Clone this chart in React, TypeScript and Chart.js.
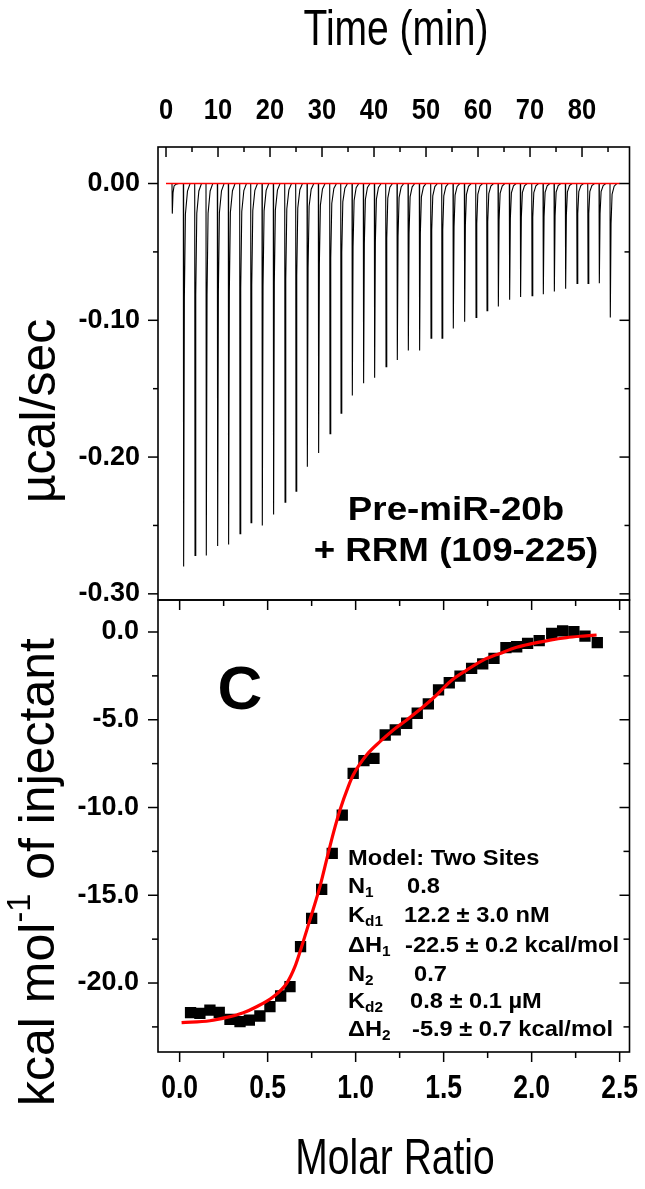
import React, { useEffect, useRef } from 'react';
import { Chart, registerables } from 'chart.js';
Chart.register(...registerables);

// ---------- Top panel: raw ITC thermogram ----------
const injectionTimes = [
  1.15, 3.33, 5.52, 7.69, 9.87, 11.98, 14.17, 16.29, 18.46, 20.63, 22.83,
  24.94, 27.12, 29.29, 31.48, 33.6, 35.77, 37.94, 40.06, 42.25, 44.42,
  46.54, 48.71, 50.9, 53.02, 55.19, 57.37, 59.56, 61.67, 63.85, 66.02,
  68.13, 70.33, 72.5, 74.62, 76.79, 78.98, 81.1, 83.27, 85.38,
];
const injectionPeaks = [
  -0.022, -0.28, -0.272, -0.272, -0.265, -0.264, -0.256, -0.248, -0.25, -0.242,
  -0.233, -0.225, -0.207, -0.197, -0.183, -0.168, -0.155, -0.146, -0.142, -0.134,
  -0.129, -0.122, -0.122, -0.113, -0.113, -0.106, -0.101, -0.098, -0.093, -0.09,
  -0.085, -0.083, -0.082, -0.081, -0.079, -0.077, -0.073, -0.073, -0.073, -0.098,
];
const baselineTimes = [0, 87.3];
const baselineValues = [0, 0];
const timeTickLabels = [0, 10, 20, 30, 40, 50, 60, 70, 80];
const timeMinorTicks = [5, 15, 25, 35, 45, 55, 65, 75, 85];
const powerTickLabels = [0, -0.1, -0.2, -0.3];
const powerMinorTicks = [-0.05, -0.15, -0.25];

// ---------- Bottom panel: integrated heats ----------
const molarRatio = [
  0.062, 0.115, 0.172, 0.225, 0.286, 0.343, 0.396, 0.456, 0.513, 0.574,
  0.627, 0.687, 0.75, 0.807, 0.867, 0.924, 0.986, 1.047, 1.104, 1.168,
  1.225, 1.29, 1.35, 1.413, 1.471, 1.532, 1.593, 1.659, 1.722, 1.786,
  1.854, 1.915, 1.977, 2.043, 2.114, 2.176, 2.24, 2.303, 2.373,
];
const heatPerMole = [
  -21.69, -21.73, -21.54, -21.67, -22.07, -22.2, -22.11, -21.88, -21.35, -20.74,
  -20.21, -17.93, -16.32, -14.66, -12.61, -10.43, -8.05, -7.33, -7.2, -5.87,
  -5.58, -5.2, -4.63, -4.1, -3.3, -2.89, -2.51, -2.07, -1.82, -1.5,
  -0.89, -0.84, -0.65, -0.49, -0.08, 0.06, 0.02, -0.23, -0.61,
];
const fitRatio = [
  0.011, 0.172, 0.267, 0.362, 0.437, 0.532, 0.608, 0.655, 0.693, 0.74,
  0.797, 0.844, 0.873, 0.911, 0.958, 0.986, 1.062, 1.138, 1.214, 1.29,
  1.384, 1.46, 1.536, 1.631, 1.725, 1.82, 1.915, 2.009, 2.104, 2.199,
  2.293, 2.369,
];
const fitHeat = [
  -22.26, -22.15, -21.96, -21.69, -21.35, -20.78, -20.02, -19.07, -17.93, -16.41,
  -14.51, -12.61, -11.47, -10.14, -8.81, -8.15, -7.01, -6.25, -5.58, -5.01,
  -4.26, -3.59, -2.83, -2.17, -1.6, -1.22, -0.87, -0.65, -0.46, -0.32,
  -0.23, -0.17,
];
const ratioTickLabels = [0, 0.5, 1, 1.5, 2, 2.5];
const ratioMinorTicks = [0.25, 0.75, 1.25, 1.75, 2.25];
const heatTickLabels = [0, -5, -10, -15, -20];
const heatMinorTicks = [-2.5, -7.5, -12.5, -17.5, -22.5];

// shape of one injection peak: [time offset (min), fraction of peak depth]
const peakShape: [number, number][] = [[0, 0], [0.06, 1], [0.2, 0.3], [0.4, 0.08], [0.8, 0.02], [1.3, 0]];

const SANS = "'Liberation Sans', Arial, Helvetica, sans-serif";

type Part = { t: string; sub?: boolean; sup?: boolean };
type TextItem = {
  x: number; y: number; size: number; bold?: boolean; sx?: number;
  align?: 'left' | 'center' | 'right'; rot?: number; parts: Part[];
};

function drawItem(ctx: CanvasRenderingContext2D, it: TextItem, offsetY: number) {
  ctx.save();
  ctx.translate(it.x, it.y - offsetY);
  if (it.rot) ctx.rotate((it.rot * Math.PI) / 180);
  ctx.scale(it.sx ?? 1, 1);
  ctx.fillStyle = '#000';
  ctx.textBaseline = 'middle';
  ctx.textAlign = 'left';
  const w = it.bold ? 'bold ' : '';
  const fontFor = (p: Part) => `${w}${p.sub || p.sup ? it.size * 0.65 : it.size}px ${SANS}`;
  let total = 0;
  const widths = it.parts.map((p) => {
    ctx.font = fontFor(p);
    const m = ctx.measureText(p.t).width;
    total += m;
    return m;
  });
  let cx = it.align === 'center' ? -total / 2 : it.align === 'right' ? -total : 0;
  it.parts.forEach((p, i) => {
    ctx.font = fontFor(p);
    const dy = p.sub ? it.size * 0.3 : p.sup ? -it.size * 0.38 : 0;
    ctx.fillText(p.t, cx, dy);
    cx += widths[i];
  });
  ctx.restore();
}

function makeTextPlugin(items: TextItem[], offsetY: number) {
  return {
    id: 'texts',
    afterDraw(chart: any) {
      items.forEach((it) => drawItem(chart.ctx, it, offsetY));
    },
  };
}

// x-axis tick labels (condensed bold digits), positioned through the chart's own x scale
function makeXLabelPlugin(values: number[], fmt: (v: number) => string, yPage: number, size: number, sx: number, offsetY: number) {
  return {
    id: 'xlabels',
    afterDraw(chart: any) {
      const scale = chart.scales.x;
      values.forEach((v) => {
        drawItem(chart.ctx, { x: scale.getPixelForValue(v), y: yPage, size, bold: true, sx, align: 'center', parts: [{ t: fmt(v) }] }, offsetY);
      });
    },
  };
}

type Side = { axis: string; side: 'top' | 'bottom' | 'left' | 'right'; dir: 'in' | 'out'; major: number[]; minor: number[] };

function makeFramePlugin(sides: Side[], majorLen: number, minorLen: number) {
  return {
    id: 'frame',
    afterDatasetsDraw(chart: any) {
      const ctx: CanvasRenderingContext2D = chart.ctx;
      const { left, right, top, bottom } = chart.chartArea;
      ctx.save();
      ctx.strokeStyle = '#000';
      ctx.lineWidth = 1.6;
      ctx.strokeRect(left, top, right - left, bottom - top);
      ctx.lineWidth = 1.5;
      sides.forEach((s) => {
        const scale = chart.scales[s.axis];
        const draw = (vals: number[], len: number) => {
          vals.forEach((v) => {
            const p = scale.getPixelForValue(v);
            const d = s.dir === 'in' ? len : -len;
            ctx.beginPath();
            if (s.side === 'top') { ctx.moveTo(p, top); ctx.lineTo(p, top + d); }
            if (s.side === 'bottom') { ctx.moveTo(p, bottom); ctx.lineTo(p, bottom - d); }
            if (s.side === 'left') { ctx.moveTo(left, p); ctx.lineTo(left + d, p); }
            if (s.side === 'right') { ctx.moveTo(right, p); ctx.lineTo(right - d, p); }
            ctx.stroke();
          });
        };
        draw(s.major, majorLen);
        draw(s.minor, minorLen);
      });
      ctx.restore();
    },
  };
}

const zeroPad = (s: any) => {
  s.paddingTop = 0;
  s.paddingBottom = 0;
  s.paddingLeft = 0;
  s.paddingRight = 0;
};

export default function App() {
  const topRef = useRef<HTMLCanvasElement>(null);
  const botRef = useRef<HTMLCanvasElement>(null);

  useEffect(() => {
    const tracePoints: { x: number; y: number }[] = [{ x: 0, y: 0 }];
    injectionTimes.forEach((t, i) => {
      peakShape.forEach(([dt, f]) => tracePoints.push({ x: t + dt, y: injectionPeaks[i] * f }));
    });
    tracePoints.push({ x: 87.3, y: 0 });
    const baseline = baselineTimes.map((t, i) => ({ x: t, y: baselineValues[i] }));

    const topTexts: TextItem[] = [
      { x: 396, y: 31, size: 50, sx: 0.78, align: 'center', parts: [{ t: 'Time (min)' }] },
      { x: 41, y: 411, size: 50, rot: -90, align: 'center', parts: [{ t: 'µcal/sec' }] },
      { x: 456, y: 511, size: 34, bold: true, sx: 1.08, align: 'center', parts: [{ t: 'Pre-miR-20b' }] },
      { x: 456, y: 552, size: 34, bold: true, sx: 1.08, align: 'center', parts: [{ t: '+ RRM (109-225)' }] },
    ];

    const top = new Chart(topRef.current!, {
      type: 'line',
      data: {
        datasets: [
          { data: baseline, borderColor: '#ff0000', borderWidth: 1.5, pointRadius: 0, order: 0 },
          { data: tracePoints, borderColor: '#000000', borderWidth: 1.1, pointRadius: 0, order: 1 },
        ],
      },
      options: {
        animation: false,
        responsive: false,
        layout: { autoPadding: false, padding: { left: 0, right: 15.5, top: 0, bottom: 5 } },
        plugins: { legend: { display: false }, tooltip: { enabled: false } },
        scales: {
          x: {
            type: 'linear', position: 'top', min: -1.54, max: 89.13,
            grid: { display: false, drawTicks: false }, border: { display: false },
            afterBuildTicks: (s: any) => { s.ticks = timeTickLabels.map((v) => ({ value: v })); },
            afterFit: (s: any) => { s.height = 147; zeroPad(s); },
            ticks: { display: false },
          },
          y: {
            type: 'linear', min: -0.3045, max: 0.0267,
            grid: { display: false, drawTicks: false }, border: { display: false },
            afterBuildTicks: (s: any) => { s.ticks = powerTickLabels.map((v) => ({ value: v })); },
            afterFit: (s: any) => { s.width = 158; zeroPad(s); },
            ticks: { autoSkip: false, padding: 18, color: '#000', font: { family: SANS, size: 27, weight: 'bold' }, callback: (v: any) => Number(v).toFixed(2) },
          },
        },
      } as any,
      plugins: [
        makeFramePlugin([
          { axis: 'x', side: 'top', dir: 'in', major: timeTickLabels, minor: timeMinorTicks },
          { axis: 'y', side: 'left', dir: 'out', major: powerTickLabels, minor: powerMinorTicks },
          { axis: 'y', side: 'right', dir: 'in', major: powerTickLabels, minor: powerMinorTicks },
        ], 10, 5),
        makeXLabelPlugin(timeTickLabels, (v) => String(v), 111, 30, 0.85, 0),
        makeTextPlugin(topTexts, 0),
      ],
    });

    const points = molarRatio.map((x, i) => ({ x, y: heatPerMole[i] }));
    const fit = fitRatio.map((x, i) => ({ x, y: fitHeat[i] }));
    const OFF = 595;
    const lineX = 348;
    const S = 21.5;
    const botTexts: TextItem[] = [
      { x: 395, y: 1160, size: 50, sx: 0.78, align: 'center', parts: [{ t: 'Molar Ratio' }] },
      { x: 40, y: 872, size: 50, rot: -90, align: 'center', parts: [{ t: 'kcal mol' }, { t: '-1', sup: true }, { t: ' of injectant' }] },
      { x: 240, y: 692, size: 62, bold: true, align: 'center', parts: [{ t: 'C' }] },
      { x: lineX, y: 859, size: S, bold: true, sx: 1.1, parts: [{ t: 'Model: Two Sites' }] },
      { x: lineX, y: 887, size: S, bold: true, sx: 1.1, parts: [{ t: 'N' }, { t: '1', sub: true }] },
      { x: 407, y: 887, size: S, bold: true, sx: 1.1, parts: [{ t: '0.8' }] },
      { x: lineX, y: 916, size: S, bold: true, sx: 1.1, parts: [{ t: 'K' }, { t: 'd1', sub: true }] },
      { x: 404, y: 916, size: S, bold: true, sx: 1.1, parts: [{ t: '12.2 ± 3.0 nM' }] },
      { x: lineX, y: 946, size: S, bold: true, sx: 1.1, parts: [{ t: 'ΔH' }, { t: '1', sub: true }] },
      { x: 405, y: 946, size: S, bold: true, sx: 1.1, parts: [{ t: '-22.5 ± 0.2 kcal/mol' }] },
      { x: lineX, y: 975, size: S, bold: true, sx: 1.1, parts: [{ t: 'N' }, { t: '2', sub: true }] },
      { x: 414, y: 975, size: S, bold: true, sx: 1.1, parts: [{ t: '0.7' }] },
      { x: lineX, y: 1002, size: S, bold: true, sx: 1.1, parts: [{ t: 'K' }, { t: 'd2', sub: true }] },
      { x: 410, y: 1002, size: S, bold: true, sx: 1.1, parts: [{ t: '0.8 ± 0.1 µM' }] },
      { x: lineX, y: 1030, size: S, bold: true, sx: 1.1, parts: [{ t: 'ΔH' }, { t: '2', sub: true }] },
      { x: 412, y: 1030, size: S, bold: true, sx: 1.1, parts: [{ t: '-5.9 ± 0.7 kcal/mol' }] },
    ];

    const bot = new Chart(botRef.current!, {
      type: 'scatter',
      data: {
        datasets: [
          { type: 'line', data: fit, borderColor: '#ff0000', borderWidth: 3.2, pointRadius: 0, cubicInterpolationMode: 'monotone', order: 0 } as any,
          { data: points, backgroundColor: '#000', borderWidth: 0, pointStyle: 'rect', pointRadius: 8, order: 1 },
        ],
      },
      options: {
        animation: false,
        responsive: false,
        layout: { autoPadding: false, padding: { left: 0, right: 15.5, top: 5, bottom: 0 } },
        plugins: { legend: { display: false }, tooltip: { enabled: false } },
        scales: {
          x: {
            type: 'linear', position: 'bottom', min: -0.123, max: 2.556,
            grid: { display: false, drawTicks: false }, border: { display: false },
            afterBuildTicks: (s: any) => { s.ticks = ratioTickLabels.map((v) => ({ value: v })); },
            afterFit: (s: any) => { s.height = 137; zeroPad(s); },
            ticks: { display: false },
          },
          y: {
            type: 'linear', min: -23.93, max: 1.823,
            grid: { display: false, drawTicks: false }, border: { display: false },
            afterBuildTicks: (s: any) => { s.ticks = heatTickLabels.map((v) => ({ value: v })); },
            afterFit: (s: any) => { s.width = 158; zeroPad(s); },
            ticks: { autoSkip: false, padding: 19, color: '#000', font: { family: SANS, size: 27, weight: 'bold' }, callback: (v: any) => Number(v).toFixed(1) },
          },
        },
      } as any,
      plugins: [
        makeFramePlugin([
          { axis: 'x', side: 'top', dir: 'in', major: ratioTickLabels, minor: ratioMinorTicks },
          { axis: 'x', side: 'bottom', dir: 'out', major: ratioTickLabels, minor: ratioMinorTicks },
          { axis: 'y', side: 'left', dir: 'out', major: heatTickLabels, minor: heatMinorTicks },
          { axis: 'y', side: 'right', dir: 'in', major: heatTickLabels, minor: heatMinorTicks },
        ], 10, 6),
        makeXLabelPlugin(ratioTickLabels, (v) => v.toFixed(1), 1089, 34, 0.78, OFF),
        makeTextPlugin(botTexts, OFF),
      ],
    });

    return () => {
      top.destroy();
      bot.destroy();
    };
  }, []);

  return (
    <div style={{ position: 'absolute', left: 0, top: 0, width: 645, height: 1189, background: '#fff' }}>
      <canvas ref={topRef} width={645} height={605} style={{ position: 'absolute', left: 0, top: 0 }} />
      <canvas ref={botRef} width={645} height={594} style={{ position: 'absolute', left: 0, top: 595 }} />
    </div>
  );
}
